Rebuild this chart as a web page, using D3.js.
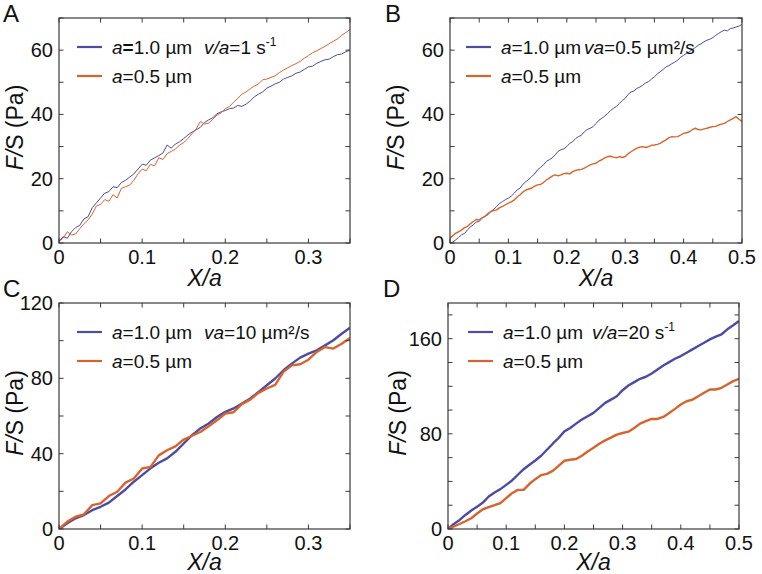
<!DOCTYPE html>
<html><head><meta charset="utf-8">
<script src="https://cdn.jsdelivr.net/npm/d3@7"></script>
<style>
body{margin:0;background:#fff}
svg{display:block}
text{font-family:"Liberation Sans",Arial,Helvetica,sans-serif;fill:#111}
</style>
</head><body>
<svg id="chart" width="762" height="574"></svg>
<script>
// ---------------- DATA ----------------
// Panel A (v/a = 1 s^-1), sampled every 0.005 in X/a from 0 to 0.35
const stepA = 0.005;
const aBlue = [0.5,2.0,1.5,3.5,4.8,5.5,7.5,8.2,11.0,12.5,14.0,15.5,16.0,17.5,17.2,18.8,19.5,20.5,21.5,23.0,
  24.5,24.2,25.8,26.5,27.2,28.0,30.5,29.5,30.8,31.5,32.5,33.6,34.5,35.2,36.0,37.5,38.3,39.0,40.2,40.8,
  41.2,41.8,42.0,42.8,42.5,43.2,44.2,45.5,46.3,47.0,48.2,48.8,49.5,50.0,51.0,51.5,52.0,52.8,53.2,54.0,
  54.8,55.0,55.9,56.5,57.0,57.2,58.0,58.6,58.8,59.5,60.0];
const aOrange = [0.5,1.5,3.5,2.5,2.8,4.5,6.0,7.2,9.0,11.5,12.0,13.5,13.0,15.0,14.0,17.0,17.5,18.0,19.5,21.5,
  23.0,22.5,24.5,24.0,26.5,26.0,27.8,28.5,29.2,30.5,31.2,32.5,34.0,35.5,37.8,37.0,37.3,38.5,39.8,40.5,
  41.8,42.5,43.8,45.0,46.3,47.0,48.0,48.8,49.5,50.8,51.0,51.5,52.0,53.0,53.8,54.5,55.2,55.8,56.5,57.5,
  58.3,59.2,59.8,60.5,61.2,62.0,62.8,63.5,64.6,65.5,66.4];

// Panel B (va = 0.5 µm²/s), sampled every 0.005 from 0 to 0.5
const stepB = 0.005;
const bBlue = [0.0,0.3,1.0,1.8,2.6,3.0,4.1,5.0,5.7,6.5,6.7,7.8,8.3,8.8,9.8,10.5,11.4,12.3,12.9,13.5,
  14.0,14.6,15.5,16.5,17.1,18.3,19.1,19.8,20.7,21.5,22.8,23.5,24.3,25.4,25.9,26.5,27.4,28.5,29.0,29.3,
  30.0,31.0,31.5,32.5,33.1,33.5,34.6,35.3,35.7,36.2,37.2,38.2,38.8,39.5,40.3,41.2,41.9,42.5,43.4,44.3,
  45.0,46.2,47.0,47.3,48.1,48.5,49.1,49.8,50.2,51.0,51.7,52.6,53.3,54.0,54.8,55.2,55.8,56.3,56.9,57.8,
  58.4,59.0,59.5,60.2,60.8,61.5,62.0,62.6,63.1,63.4,63.9,64.6,65.2,65.8,66.2,66.0,66.7,66.9,67.2,67.5,68.0];
const bOrange = [1.5,2.3,3.1,3.5,4.1,4.8,5.2,6.0,6.7,7.3,7.2,7.8,8.3,9.2,9.8,10.1,10.3,11.0,11.4,11.9,
  12.4,12.8,13.4,14.3,15.0,15.9,16.5,16.8,17.1,17.7,18.1,18.2,18.8,19.6,20.2,20.8,21.2,20.9,21.2,21.6,
  21.7,21.5,22.2,22.6,22.8,22.9,23.3,23.8,24.3,24.6,24.8,25.5,25.9,26.5,26.9,27.0,26.7,26.5,26.9,26.6,
  26.9,27.8,28.4,29.0,29.5,29.8,30.0,29.7,30.0,30.4,30.5,30.7,31.0,31.6,32.1,32.8,33.1,33.0,33.1,33.6,
  34.1,34.3,34.6,35.3,35.7,35.3,35.2,35.5,35.7,36.0,36.2,36.3,36.7,37.0,37.2,37.8,38.3,38.8,39.3,38.5,37.8];

// Panel C (va = 10 µm²/s), sampled every 0.01 from 0 to 0.35
const stepC = 0.01;
const cBlue = [0,3.0,5.7,7.4,10.0,11.8,14.0,17.5,21.0,25.1,28.6,32.2,35.2,37.5,41.0,45.4,49.8,53.4,56.0,59.5,
  62.2,64.0,66.6,69.3,72.8,76.3,79.9,84.3,87.8,91.0,93.1,94.9,97.5,100.2,103.7,106.9];
const cOrange = [0,3.9,6.5,7.8,12.7,13.6,17.5,19.8,24.6,26.8,32.1,33.0,39.1,41.8,43.9,47.5,49.5,51.5,54.5,57.7,
  61.3,62.0,66.3,68.7,72.3,74.6,76.5,83.4,86.9,87.5,89.9,94.0,96.6,95.8,98.4,101.4];

// Panel D (v/a = 20 s^-1), sampled every 0.01 from 0 to 0.5
const stepD = 0.01;
const dBlue = [0,4.2,7.6,11.8,15.5,18.8,22.2,27.3,30.7,33.5,37.1,40.8,45.6,50.3,54.0,57.6,61.6,66.6,71.7,76.5,
  82.1,84.9,88.6,92.0,94.8,97.6,101.8,106.0,108.8,111.6,116.7,120.6,123.5,126.3,128.0,130.8,134.1,137.5,140.3,143.1,
  145.4,148.2,151.0,153.8,156.6,159.4,161.7,163.7,167.9,171.3,174.9];
const dOrange = [0,2.2,4.2,6.5,9.0,13.0,16.6,18.3,20.0,21.7,25.9,30.1,32.9,32.9,38.0,41.9,45.3,46.4,48.9,53.1,
  57.4,58.2,58.8,61.6,65.2,68.3,71.7,74.5,76.8,79.3,80.7,81.8,84.9,88.6,90.6,92.5,92.5,94.2,97.6,101.0,
  104.6,107.4,108.8,111.6,114.5,117.3,117.3,118.7,121.5,124.3,126.3];

// Tick labels
const xTicksShort = [0, 0.1, 0.2, 0.3];
const xTicksLong = [0, 0.1, 0.2, 0.3, 0.4, 0.5];
const yTicksAB = [0, 20, 40, 60];
const yTicksC = [0, 40, 80, 120];
const yTicksD = [0, 80, 160];

// Legend texts
const seriesNames = ["a=1.0 µm", "a=0.5 µm"];
const conditions = ["v/a=1 s-1", "va=0.5 µm²/s", "va=10 µm²/s", "v/a=20 s-1"];
const panelLetters = ["A", "B", "C", "D"];

// ---------------- DRAW ----------------
const BLUE = "#4b4ca2", ORANGE = "#d8642d";
const svg = d3.select("#chart");

const panels = [
  {letter:0, l:59, t:18, r:350, b:243, xMax:0.35, yMax:70, xT:xTicksShort, yT:yTicksAB, yMinor:10,
   blue:aBlue, orange:aOrange, step:stepA, lw:1, oLw:1, cond:0, legL:18, condX:145, yLabX:23, letterX:3, letterY:22, boldEq:true, xtY:43},
  {letter:1, l:450, t:18, r:742, b:243, xMax:0.5, yMax:70, xT:xTicksLong, yT:yTicksAB, yMinor:10,
   blue:bBlue, orange:bOrange, step:stepB, lw:1, oLw:1.4, cond:1, legL:16, condX:134, yLabX:404, letterX:385, letterY:22, xtY:43},
  {letter:2, l:59, t:303, r:350, b:529, xMax:0.35, yMax:120, xT:xTicksShort, yT:yTicksC, yMinor:20,
   blue:cBlue, orange:cOrange, step:stepC, lw:2.4, oLw:2.4, cond:2, legL:18, condX:145, yLabX:23, letterX:3, letterY:297, xtY:41},
  {letter:3, l:448, t:303, r:739, b:529, xMax:0.5, yMax:190, xT:xTicksLong, yT:yTicksD, yMinor:20,
   blue:dBlue, orange:dOrange, step:stepD, lw:2.4, oLw:2.4, cond:3, legL:20, condX:144, yLabX:406, letterX:383, letterY:297, xtY:41}
];

function addRich(sel, str, opts) {
  const parts = [];
  if (str.startsWith("v/a")) { parts.push({t:"v/a", i:true}); str = str.slice(3); }
  else if (str.startsWith("va")) { parts.push({t:"va", i:true}); str = str.slice(2); }
  else if (str.startsWith("a")) { parts.push({t:"a", i:true}); str = str.slice(1); }
  if (opts && opts.boldEq && str.startsWith("=")) { parts.push({t:"=", b:true}); str = str.slice(1); }
  if (str.endsWith("s-1")) { parts.push({t:str.slice(0, -2)}); parts.push({t:"-1", sup:true}); }
  else parts.push({t:str});
  parts.forEach(p => {
    const ts = sel.append("tspan").text(p.t);
    if (p.i) ts.attr("font-style", "italic");
    if (p.b) ts.attr("font-weight", "bold");
    if (p.sup) ts.attr("font-size", 12).attr("dy", -8);
  });
}

panels.forEach(p => {
  const x = d3.scaleLinear().domain([0, p.xMax]).range([p.l, p.r]);
  const y = d3.scaleLinear().domain([0, p.yMax]).range([p.b, p.t]);
  const g = svg.append("g");

  const cid = "clip" + p.letter;
  g.append("clipPath").attr("id", cid).append("rect")
    .attr("x", p.l).attr("y", p.t).attr("width", p.r - p.l).attr("height", p.b - p.t);

  const line = d3.line().x((d, i) => x(i * p.step)).y(d => y(d));
  g.append("path").datum(p.blue).attr("d", line).attr("fill", "none")
    .attr("stroke", BLUE).attr("stroke-width", p.lw).attr("stroke-linejoin", "round")
    .attr("clip-path", `url(#${cid})`);
  g.append("path").datum(p.orange).attr("d", line).attr("fill", "none")
    .attr("stroke", ORANGE).attr("stroke-width", p.oLw).attr("stroke-linejoin", "round")
    .attr("clip-path", `url(#${cid})`);

  g.append("rect").attr("x", p.l).attr("y", p.t).attr("width", p.r - p.l).attr("height", p.b - p.t)
    .attr("fill", "none").attr("stroke", "#3a3a3a").attr("stroke-width", 1.2);

  const TL = 4.5;
  const xMinorT = d3.range(0, p.xMax + 1e-9, 0.05);
  const yMinorT = d3.range(0, p.yMax + 1e-9, p.yMinor);
  xMinorT.forEach(v => {
    g.append("line").attr("x1", x(v)).attr("x2", x(v)).attr("y1", p.b).attr("y2", p.b - TL)
      .attr("stroke", "#3a3a3a").attr("stroke-width", 1);
    g.append("line").attr("x1", x(v)).attr("x2", x(v)).attr("y1", p.t).attr("y2", p.t + TL)
      .attr("stroke", "#3a3a3a").attr("stroke-width", 1);
  });
  yMinorT.forEach(v => {
    g.append("line").attr("x1", p.l).attr("x2", p.l + TL).attr("y1", y(v)).attr("y2", y(v))
      .attr("stroke", "#3a3a3a").attr("stroke-width", 1);
    g.append("line").attr("x1", p.r).attr("x2", p.r - TL).attr("y1", y(v)).attr("y2", y(v))
      .attr("stroke", "#3a3a3a").attr("stroke-width", 1);
  });

  p.xT.forEach(v => {
    g.append("text").attr("x", x(v)).attr("y", p.b + 21).attr("text-anchor", "middle")
      .attr("font-size", 20).text(String(v));
  });
  p.yT.forEach(v => {
    g.append("text").attr("x", p.l - 6).attr("y", y(v) + 7).attr("text-anchor", "end")
      .attr("font-size", 20).text(String(v));
  });

  g.append("text").attr("x", (p.l + p.r) / 2).attr("y", p.b + p.xtY)
    .attr("text-anchor", "middle").attr("font-size", 23).attr("font-style", "italic").text("X/a");
  const cy = (p.t + p.b) / 2 - 3;
  const yt = g.append("text").attr("transform", `translate(${p.yLabX},${cy}) rotate(-90)`)
    .attr("text-anchor", "middle").attr("font-size", 23);
  yt.append("tspan").attr("font-style", "italic").text("F/");
  yt.append("tspan").text("S (Pa)");

  g.append("text").attr("x", p.letterX).attr("y", p.letterY).attr("font-size", 24)
    .text(panelLetters[p.letter]);

  const ly1 = p.t + 29, ly2 = p.t + 58;
  const lx = p.l + p.legL;
  [[ly1, BLUE], [ly2, ORANGE]].forEach((r, i) => {
    g.append("line").attr("x1", lx).attr("x2", lx + 25).attr("y1", r[0]).attr("y2", r[0])
      .attr("stroke", r[1]).attr("stroke-width", 2.2);
    const t = g.append("text").attr("x", lx + 35).attr("y", r[0] + 7).attr("font-size", 19);
    addRich(t, seriesNames[i], {boldEq: i === 0 && p.boldEq});
  });
  const ct = g.append("text").attr("x", p.l + p.condX).attr("y", ly1 + 7).attr("font-size", 19);
  addRich(ct, conditions[p.cond]);
});
</script>
</body></html>
